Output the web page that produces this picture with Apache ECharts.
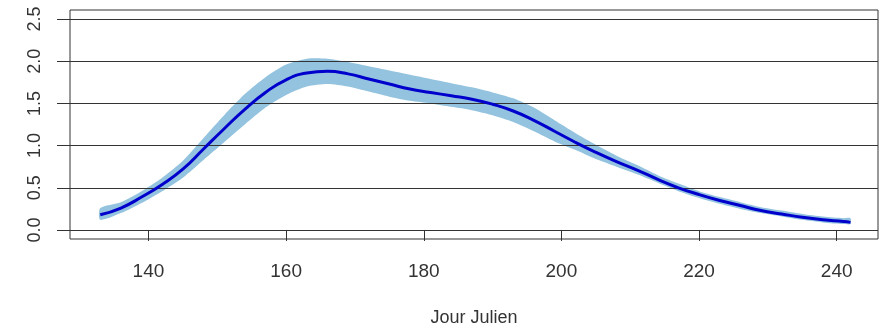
<!DOCTYPE html>
<html>
<head>
<meta charset="utf-8">
<script src="https://cdn.jsdelivr.net/npm/echarts@6/dist/echarts.min.js"></script>
<style>
  html, body { margin: 0; padding: 0; background: #fff; }
  #chart { width: 882px; height: 330px; }
</style>
</head>
<body>
<div id="chart"></div>
<script>
// jour julien
const days = [133, 136, 139, 142, 145, 148, 151, 154, 157, 160, 163, 166, 169, 172, 175, 178, 181, 184, 187, 190,
  193, 196, 199, 202, 205, 208, 211, 214, 217, 220, 223, 226, 229, 232, 235, 238, 241, 242]
// courbe moyenne
const meanVals = [0.18, 0.26, 0.39, 0.54, 0.72, 0.96, 1.20, 1.43, 1.63, 1.78, 1.86, 1.88, 1.85, 1.79, 1.73, 1.67, 1.63, 1.59, 1.55, 1.49,
  1.41, 1.30, 1.17, 1.04, 0.92, 0.81, 0.71, 0.60, 0.50, 0.42, 0.35, 0.29, 0.23, 0.19, 0.15, 0.12, 0.10, 0.09]
// bornes de l'intervalle
const lowerVals = [0.12, 0.20, 0.32, 0.46, 0.62, 0.83, 1.04, 1.25, 1.45, 1.60, 1.70, 1.73, 1.70, 1.64, 1.58, 1.53, 1.50, 1.46, 1.42, 1.36,
  1.28, 1.17, 1.05, 0.95, 0.84, 0.75, 0.66, 0.56, 0.46, 0.38, 0.31, 0.25, 0.20, 0.16, 0.12, 0.09, 0.07, 0.07]
const upperVals = [0.26, 0.33, 0.46, 0.62, 0.82, 1.09, 1.36, 1.61, 1.81, 1.96, 2.03, 2.03, 1.99, 1.94, 1.89, 1.84, 1.79, 1.74, 1.69, 1.63,
  1.56, 1.45, 1.30, 1.15, 1.01, 0.88, 0.77, 0.65, 0.55, 0.46, 0.39, 0.33, 0.27, 0.23, 0.19, 0.16, 0.14, 0.14]
const xTicks = [140, 160, 180, 200, 220, 240]
const yTicks = [0, 0.5, 1, 1.5, 2, 2.5]

const chart = echarts.init(document.getElementById('chart'))
const font = 'Liberation Sans, Arial, sans-serif'

// bande de confiance : un seul polygone (borne haute puis borne basse à rebours)
function renderBand(params, api) {
  if (params.dataIndex !== 0) return null
  const pts = []
  for (let i = 0; i < days.length; i++) pts.push(api.coord([days[i], upperVals[i]]))
  for (let i = days.length - 1; i >= 0; i--) pts.push(api.coord([days[i], lowerVals[i]]))
  return {
    type: 'polygon',
    shape: { points: pts, smooth: 0.25 },
    style: { fill: '#93c3de' },
    silent: true
  }
}

chart.setOption({
  animation: false,
  grid: {
    left: 70, right: 4, top: 10, bottom: 91,
    show: true,
    borderColor: '#333',
    borderWidth: 1,
    outerBoundsMode: 'none'
  },
  xAxis: {
    type: 'value',
    min: 128.6,
    max: 246,
    name: 'Jour Julien',
    nameLocation: 'middle',
    nameGap: 70,
    nameTextStyle: { fontFamily: font, fontSize: 18, color: '#333' },
    axisLine: { show: false },
    axisTick: { show: true, length: 11, customValues: xTicks, lineStyle: { color: '#333' } },
    axisLabel: { customValues: xTicks, margin: 23, fontFamily: font, fontSize: 19, color: '#333' },
    splitLine: { show: false }
  },
  yAxis: {
    type: 'value',
    min: -0.107,
    max: 2.607,
    axisLine: { show: false },
    axisTick: { show: true, length: 13, customValues: yTicks, lineStyle: { color: '#333' } },
    axisLabel: {
      customValues: yTicks,
      rotate: 90,
      margin: 26,
      fontFamily: font,
      fontSize: 18,
      color: '#333',
      formatter: v => v.toFixed(1)
    },
    splitLine: { show: false }
  },
  series: [
    {
      name: 'bande',
      type: 'custom',
      renderItem: renderBand,
      data: days.map((d, i) => [d, upperVals[i], lowerVals[i]]),
      encode: { x: 0, y: [1, 2] },
      silent: true,
      z: 1,
      markLine: {
        silent: true,
        symbol: 'none',
        z: 5,
        label: { show: false },
        lineStyle: { color: '#333', type: 'solid', width: 1.2 },
        data: yTicks.map(v => ({ yAxis: v }))
      }
    },
    {
      name: 'moyenne',
      type: 'line',
      data: days.map((d, i) => [d, meanVals[i]]),
      smooth: true,
      symbol: 'none',
      z: 10,
      lineStyle: { color: '#0000cd', width: 3 }
    }
  ]
})
</script>
</body>
</html>
